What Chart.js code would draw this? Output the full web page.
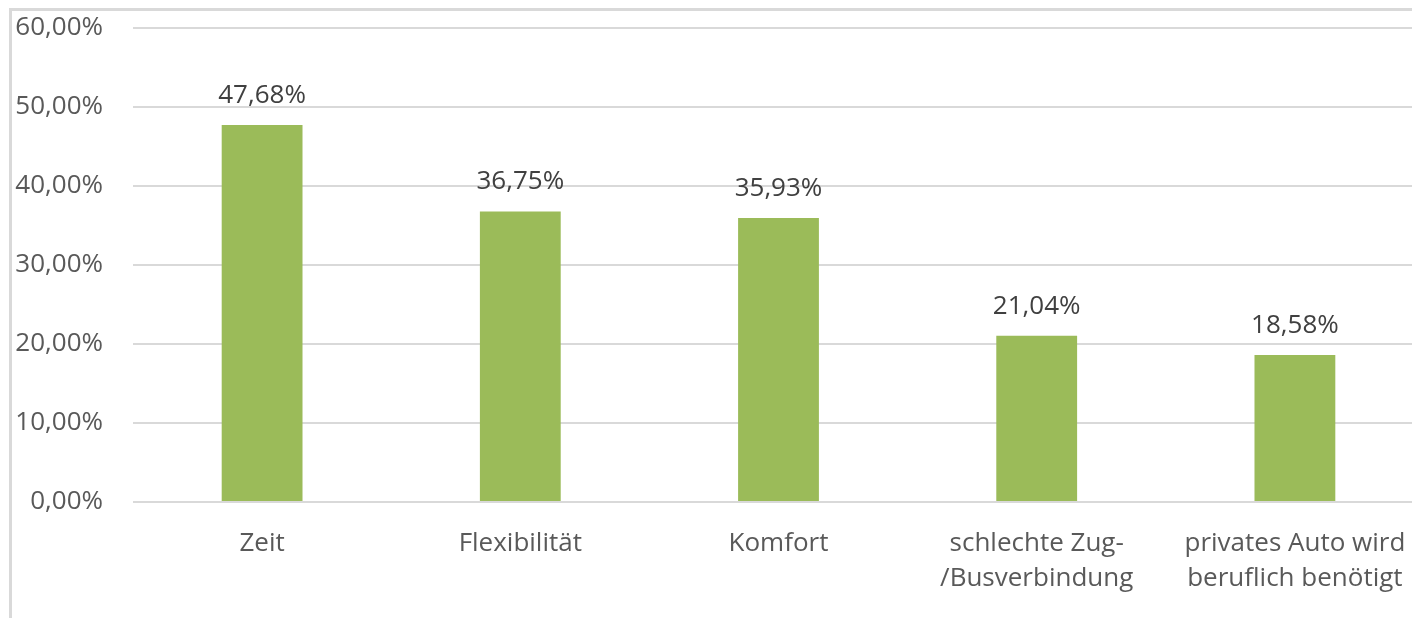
<!DOCTYPE html>
<html>
<head>
<meta charset="utf-8">
<script src="https://cdn.jsdelivr.net/npm/chart.js@4"></script>
<style>
html,body{margin:0;padding:0;background:#fff;overflow:hidden;width:1412px;height:618px}
#frame{position:absolute;left:9px;top:8px;width:1500px;height:700px;border-left:3px solid #d9d9d9;border-top:3px solid #d9d9d9}
#chart{position:absolute;left:0;top:-18px}
</style>
</head>
<body>
<div id="frame"></div>
<canvas id="chart" width="1440" height="636"></canvas>
<script>
// categories and values (percent)
const categories = ['Zeit','Flexibilität','Komfort',['schlechte Zug-','/Busverbindung'],['privates Auto wird','beruflich benötigt']];
const shares = [47.68, 36.75, 35.93, 21.04, 18.58];
const yTicks = [0,10,20,30,40,50,60];

const FONT = '"Open Sans", "Liberation Sans", sans-serif';
const fmt = v => v.toFixed(2).replace('.',',') + '%';

// draws the value above each bar
const barLabels = {
  id:'barLabels',
  afterDatasetsDraw(chart){
    const ctx = chart.ctx;
    const meta = chart.getDatasetMeta(0);
    ctx.save();
    ctx.font = '26px ' + FONT;
    ctx.fillStyle = '#404040';
    ctx.textAlign = 'center';
    ctx.textBaseline = 'alphabetic';
    meta.data.forEach((bar,i)=>{
      ctx.fillText(fmt(shares[i]), bar.x, bar.y - 22);
    });
    ctx.restore();
  }
};

new Chart(document.getElementById('chart').getContext('2d'),{
  type:'bar',
  data:{labels:categories, datasets:[{data:shares, backgroundColor:'#9bbb59', borderWidth:0, barPercentage:1, categoryPercentage:0.313}]},
  options:{
    responsive:false,
    animation:false,
    layout:{padding:{top:11,right:16,left:0,bottom:0}},
    plugins:{legend:{display:false}, tooltip:{enabled:false}},
    scales:{
      x:{
        grid:{display:false, drawTicks:false},
        border:{display:false},
        ticks:{color:'#595959', font:{family:FONT, size:26, lineHeight:1.35}, padding:24, maxRotation:0, autoSkip:false},
        afterFit(a){ a.height = 116; }
      },
      y:{
        min:0, max:60,
        afterBuildTicks(a){ a.ticks = yTicks.map(v=>({value:v})); },
        grid:{color:'#d9d9d9', lineWidth:2, drawTicks:false},
        border:{display:false},
        ticks:{color:'#595959', font:{family:FONT, size:26}, padding:30, callback:v=>fmt(v)},
        afterFit(a){ a.width = 133; }
      }
    }
  },
  plugins:[barLabels]
});
</script>
</body>
</html>
